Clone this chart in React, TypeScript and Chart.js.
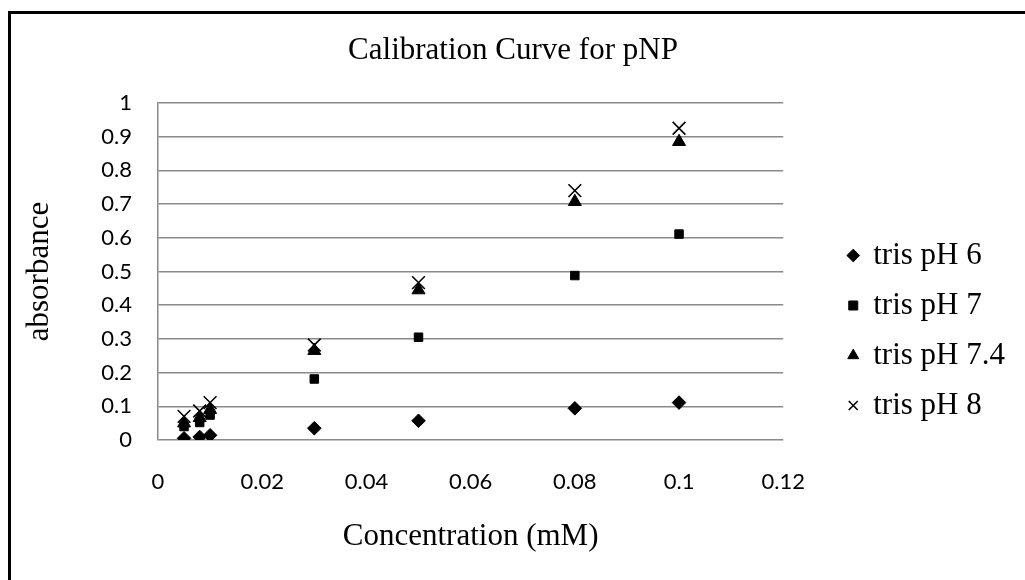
import React, { useEffect, useRef } from 'react';
import { Chart, registerables } from 'chart.js';

Chart.register(...registerables);

// ---- data ----
const concentrations = [0.005, 0.008, 0.01, 0.03, 0.05, 0.08, 0.1];
const trisPH6 = [0.005, 0.009, 0.014, 0.035, 0.057, 0.094, 0.111];
const trisPH7 = [0.04, 0.052, 0.074, 0.181, 0.305, 0.488, 0.611];
const trisPH74 = [0.05, 0.066, 0.09, 0.265, 0.445, 0.707, 0.885];
const trisPH8 = [0.07, 0.086, 0.111, 0.282, 0.467, 0.74, 0.925];
const seriesNames = ['tris pH 6', 'tris pH 7', 'tris pH 7.4', 'tris pH 8'];
const xTickLabels = ['0', '0.02', '0.04', '0.06', '0.08', '0.1', '0.12'];
const yTickLabels = ['0', '0.1', '0.2', '0.3', '0.4', '0.5', '0.6', '0.7', '0.8', '0.9', '1'];
const chartTitle = 'Calibration Curve for pNP';
const xTitle = 'Concentration (mM)';
const yTitle = 'absorbance';

const SERIF = '"Liberation Serif", "Times New Roman", serif';
const SANS = 'Lato, "Open Sans", sans-serif';
const GRID = '#8a8a8a';

const toPoints = (ys: number[]) => concentrations.map((x, i) => ({ x, y: ys[i] }));

export default function App() {
  const ref = useRef<HTMLCanvasElement | null>(null);

  useEffect(() => {
    if (!ref.current) return;
    const chart = new Chart(ref.current, {
      type: 'scatter',
      data: {
        datasets: [
          {
            label: seriesNames[0],
            data: toPoints(trisPH6),
            pointStyle: 'rectRot',
            pointRadius: 6.8,
            backgroundColor: '#000',
            borderColor: '#000',
            borderWidth: 1,
            order: 4,
          },
          {
            label: seriesNames[1],
            data: toPoints(trisPH7),
            pointStyle: 'rect',
            pointRadius: 6,
            backgroundColor: '#000',
            borderColor: '#000',
            borderWidth: 1,
            order: 3,
          },
          {
            label: seriesNames[2],
            data: toPoints(trisPH74),
            pointStyle: 'triangle',
            pointRadius: 7.5,
            backgroundColor: '#000',
            borderColor: '#000',
            borderWidth: 1,
            order: 2,
          },
          {
            label: seriesNames[3],
            data: toPoints(trisPH8),
            pointStyle: 'crossRot',
            pointRadius: 9,
            backgroundColor: '#000',
            borderColor: '#000',
            borderWidth: 1.6,
            order: 1,
          },
        ],
      },
      options: {
        animation: false,
        responsive: false,
        devicePixelRatio: 1,
        layout: { padding: { left: 0, right: 20, top: 0, bottom: 0 } },
        plugins: {
          title: {
            display: true,
            text: chartTitle,
            color: '#000',
            font: { family: SERIF, size: 31, weight: 'normal' },
            padding: { top: 18.4, bottom: 33.4 },
          },
          legend: {
            position: 'right',
            maxWidth: 400,
            labels: {
              usePointStyle: true,
              boxWidth: 9,
              boxHeight: 9,
              padding: 19,
              color: '#000',
              font: { family: SERIF, size: 31 },
              sort: (a: any, b: any) => a.datasetIndex - b.datasetIndex,
            },
          },
          tooltip: { enabled: false },
        },
        scales: {
          x: {
            type: 'linear',
            min: 0,
            max: 0.12,
            ticks: {
              stepSize: 0.02,
              padding: 29,
              color: '#000',
              font: { family: SANS, size: 22 },
              callback: (_v: any, i: number) => xTickLabels[i],
            },
            grid: { display: false, drawTicks: false },
            border: { display: false },
            title: {
              display: true,
              text: xTitle,
              color: '#000',
              font: { family: SERIF, size: 31 },
              padding: { top: 0, bottom: 91.4 },
            },
            afterFit: (s: any) => {
              s.height = 207;
            },
          },
          y: {
            type: 'linear',
            min: 0,
            max: 1,
            ticks: {
              stepSize: 0.1,
              padding: 26,
              color: '#000',
              font: { family: SANS, size: 22 },
              callback: (_v: any, i: number) => yTickLabels[i],
            },
            grid: { color: GRID, lineWidth: 1.5, drawTicks: false },
            border: { display: true, color: GRID, width: 1.5 },
            title: {
              display: true,
              text: yTitle,
              color: '#000',
              font: { family: SERIF, size: 31 },
              padding: { top: 10, bottom: 0 },
            },
            afterFit: (s: any) => {
              s.width = 147;
            },
          },
          y2: {
            position: 'right',
            display: true,
            ticks: { display: false },
            grid: { display: false, drawTicks: false },
            border: { display: false },
            afterFit: (s: any) => {
              s.width = 46.5;
            },
          },
        },
      } as any,
    });
    return () => chart.destroy();
  }, []);

  return (
    <div
      style={{
        position: 'fixed',
        left: 0,
        top: 0,
        width: 1025,
        height: 580,
        overflow: 'hidden',
        background: '#fff',
      }}
    >
      <div
        style={{
          position: 'absolute',
          left: 8,
          top: 11,
          width: 1024,
          height: 633,
          border: '3px solid #000',
          background: '#fff',
        }}
      >
        <canvas ref={ref} width={1024} height={633} style={{ display: 'block' }} />
      </div>
    </div>
  );
}
